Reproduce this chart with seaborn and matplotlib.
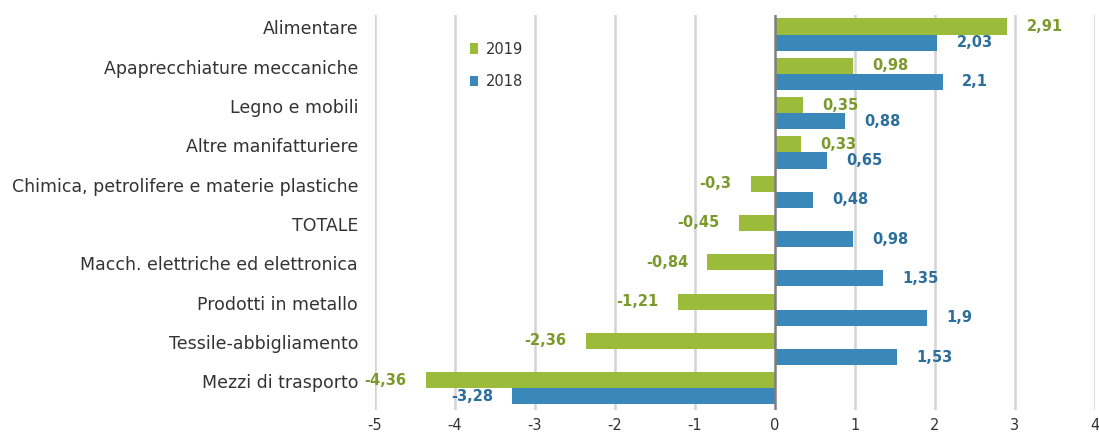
import numpy as np
import pandas as pd
import matplotlib.pyplot as plt
import seaborn as sns

categories = ['Alimentare', 'Apaprecchiature meccaniche', 'Legno e mobili',
              'Altre manifatturiere', 'Chimica, petrolifere e materie plastiche',
              'TOTALE', 'Macch. elettriche ed elettronica', 'Prodotti in metallo',
              'Tessile-abbigliamento', 'Mezzi di trasporto']
values_2019 = [2.91, 0.98, 0.35, 0.33, -0.3, -0.45, -0.84, -1.21, -2.36, -4.36]
values_2018 = [2.03, 2.1, 0.88, 0.65, 0.48, 0.98, 1.35, 1.9, 1.53, -3.28]
years = ['2019', '2018']
x_ticks = [-5, -4, -3, -2, -1, 0, 1, 2, 3, 4]

sns.set_style("white")
plt.rcParams['font.family'] = ['DejaVu Sans']

df = pd.DataFrame({
    'settore': categories * 2,
    'anno': ['2019'] * len(categories) + ['2018'] * len(categories),
    'valore': values_2019 + values_2018,
})

green = '#9BBB3B'
blue = '#3A88BA'
fig = plt.figure(figsize=(10.99, 4.37), dpi=100)
ax = fig.add_axes([0.341, 0.062, 0.655, 0.904])

sns.barplot(data=df, y='settore', x='valore', hue='anno', hue_order=years,
            order=categories, palette=[green, blue], width=0.82,
            orient='h', ax=ax, saturation=1, linewidth=0)

# labels with comma decimals
text_colors = ['#7C9A2C', '#2C6E9C']
for cont, col in zip(ax.containers, text_colors):
    labels = [f"{v:g}".replace('.', ',') for v in cont.datavalues]
    ax.bar_label(cont, labels=labels, padding=14, color=col,
                 fontsize=10.5, fontweight='bold')

ax.set_xlim(-5, 4)
ax.set_ylim(9.55, -0.5)
ax.set_xticks(x_ticks)
ax.set_xticklabels([str(t) for t in x_ticks], fontsize=10.5, color='#333333')
ax.set_yticks(np.arange(len(categories)) - 0.18)
ax.set_yticklabels(categories, fontsize=12.5, color='#333333')
ax.tick_params(axis='y', length=0, pad=12)
ax.tick_params(axis='x', length=0, pad=6)
ax.set_xlabel('')
ax.set_ylabel('')
for t in x_ticks:
    if t == 0:
        ax.axvline(t, color='#7F7F7F', lw=1.8, zorder=3)
    else:
        ax.axvline(t, color='#D3D3D3', lw=1.8, zorder=0)
for s in ax.spines.values():
    s.set_visible(False)

ax.legend(loc='upper left', bbox_to_anchor=(0.416, 0.935), bbox_transform=fig.transFigure,
          frameon=False, fontsize=10.5, handlelength=0.55, handleheight=0.7,
          handletextpad=0.5, labelspacing=1.2, labelcolor='#333333')

plt.savefig('out.png', dpi=100)
plt.close()
